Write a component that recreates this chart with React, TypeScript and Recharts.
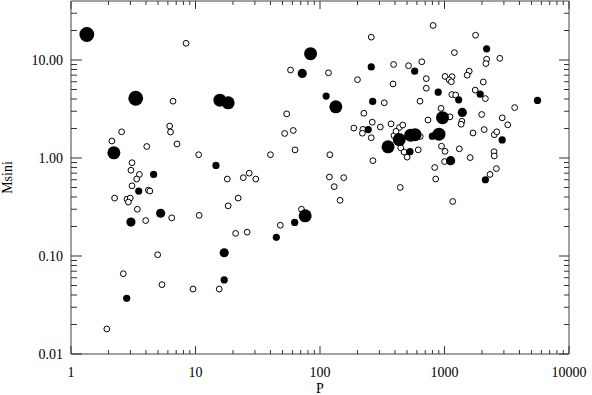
import React from 'react';
import { ScatterChart, Scatter, XAxis, YAxis, ReferenceArea } from 'recharts';

// Orbital period P (days) and Msini (Mjup)

// open circles
const openPeriod = [
  8.4, 6.6, 2.55, 6.2, 6.3, 2.13, 7.1, 4.06, 10.6, 3.09, 3.03, 3.54, 3.37, 3.09, 4.18, 4.3,
  2.24, 2.82, 2.99, 2.89, 3.41, 3.98, 6.44, 10.7, 4.97, 2.63, 5.38, 9.55, 1.94,
  258, 58, 117, 200, 328, 54, 225, 263, 61, 52, 187, 221, 219, 305, 258, 372,
  40, 63, 120, 266, 18, 24.2, 27, 30.5, 119, 155, 130, 22, 145, 18.3, 21, 26, 15.5, 48, 71,
  810, 1775, 1200, 2180, 2150, 2780, 390, 514, 657, 714, 1010, 1150, 1090, 1135, 1580, 1520,
  2050, 386, 714, 1765, 2130, 1145, 1230, 636, 3660, 937, 737, 1990, 2910, 1380, 1360, 3220,
  435, 462, 393, 408, 638, 1694, 2084, 2510, 2630, 445, 473, 501, 615, 946, 1010, 1000,
  1315, 1607, 2500, 2510, 2610, 2320, 834, 850, 441, 1164, 1107,
];
const openMass = [
  14.8, 3.8, 1.85, 2.12, 1.84, 1.49, 1.39, 1.31, 1.08, 0.895, 0.75, 0.68, 0.61, 0.52, 0.47, 0.46,
  0.39, 0.38, 0.39, 0.355, 0.3, 0.23, 0.245, 0.26, 0.103, 0.066, 0.051, 0.046, 0.018,
  17.1, 7.9, 7.4, 6.3, 3.66, 2.82, 2.86, 2.32, 1.91, 1.78, 2.02, 1.96, 1.79, 2.07, 1.61, 2.23,
  1.08, 1.21, 1.08, 0.94, 0.61, 0.63, 0.7, 0.61, 0.64, 0.63, 0.51, 0.39, 0.37, 0.325, 0.17, 0.175, 0.046, 0.206, 0.3,
  22.5, 17.9, 11.9, 10.2, 9.2, 10.4, 9.0, 8.75, 9.6, 6.46, 6.8, 6.76, 6.27, 6.0, 7.7, 7.0,
  5.97, 5.7, 5.15, 4.93, 4.04, 4.44, 4.39, 3.8, 3.27, 3.21, 2.44, 2.78, 2.57, 2.37, 2.21, 2.18,
  2.05, 2.17, 1.69, 1.87, 1.66, 1.8, 1.95, 1.73, 1.85, 1.27, 1.15, 1.02, 1.21, 1.32, 1.17, 0.92,
  1.24, 1.01, 1.16, 1.05, 0.78, 0.68, 0.8, 0.61, 0.5, 0.36, 2.63,
];

// small filled
const smallPeriod = [4.61, 3.5, 2.8, 258, 112, 265, 244, 14.6, 17, 44.6, 62.6, 2180, 576, 890, 1935, 1300, 5585, 2905, 528, 2130, 798];
const smallMass = [0.68, 0.46, 0.037, 8.5, 4.28, 3.78, 1.95, 0.84, 0.057, 0.155, 0.22, 13.0, 7.7, 4.7, 4.48, 3.92, 3.87, 1.53, 1.16, 0.6, 1.67];

// medium filled
const mediumPeriod = [5.25, 3.03, 72, 17, 1390, 1120];
const mediumMass = [0.273, 0.222, 7.3, 0.108, 2.92, 0.94];

// large filled
const largePeriod = [2.21, 84, 15.7, 18.3, 134, 76, 352, 433, 535, 580, 903, 964];
const largeMass = [1.13, 11.6, 3.89, 3.66, 3.33, 0.257, 1.3, 1.54, 1.71, 1.73, 1.75, 2.58];

// biggest filled
const hugePeriod = [1.34, 3.31];
const hugeMass = [18.2, 4.07];

const X_MAJOR = [1, 10, 100, 1000, 10000];
const Y_MAJOR = [0.01, 0.1, 1, 10];
const X_TICKS = [...X_MAJOR.slice(0, -1).flatMap((d) => [1, 2, 3, 4, 5, 6, 7, 8, 9].map((k) => k * d)), 10000];
const Y_TICKS = [...Y_MAJOR.slice(0, -1).flatMap((d) => [1, 2, 3, 4, 5, 6, 7, 8, 9].map((k) => k * d)), 10, 20, 30];
const X_DOMAIN = [1, 10000];
const Y_DOMAIN = [0.01, 40];

const W = 592;
const H = 395;
const MARGIN = { top: 1, right: 23, bottom: 0, left: 0 };
const X_AXIS_H = 41;
const Y_AXIS_W = 71;
const PLOT_W = W - MARGIN.left - MARGIN.right - Y_AXIS_W;
const PLOT_H = H - MARGIN.top - MARGIN.bottom - X_AXIS_H;

const FONT = '"Liberation Serif", "Times New Roman", serif';
const TICK_COLOR = '#333';

const zip = (ps: number[], ms: number[]) => ps.map((p, i) => ({ p, m: ms[i] }));

const dot = (r: number, filled: boolean) => (props: any) => (
  <circle
    cx={props.cx}
    cy={props.cy}
    r={r}
    fill={filled ? '#000' : '#fff'}
    stroke="#000"
    strokeWidth={filled ? 0 : 1}
  />
);

const isMajor = (list: number[], v: number) => list.some((m) => Math.abs(m - v) < m * 1e-6);

// bottom axis tick, also mirrors the tick on the top edge of the frame
const XTick = (props: any) => {
  const { x, y, payload } = props;
  const major = isMajor(X_MAJOR, payload.value);
  const len = major ? 8 : 4;
  const top = y - PLOT_H;
  return (
    <g>
      <line x1={x} x2={x} y1={y} y2={y - len} stroke={TICK_COLOR} strokeWidth={1} />
      <line x1={x} x2={x} y1={top} y2={top + len} stroke={TICK_COLOR} strokeWidth={1} />
      {major && (
        <text x={x} y={y + 23} textAnchor="middle" fontFamily={FONT} fontSize={14} fill="#000">
          {payload.value}
        </text>
      )}
    </g>
  );
};

// left axis tick, also mirrors the tick on the right edge of the frame
const YTick = (props: any) => {
  const { x, y, payload } = props;
  const major = isMajor(Y_MAJOR, payload.value);
  const right = x + PLOT_W;
  return (
    <g>
      <line x1={x} x2={x + (major ? 11 : 6)} y1={y} y2={y} stroke={TICK_COLOR} strokeWidth={1} />
      <line x1={right} x2={right - (major ? 10 : 5)} y1={y} y2={y} stroke={TICK_COLOR} strokeWidth={1} />
      {major && (
        <text x={x - 8} y={y + 5} textAnchor="end" fontFamily={FONT} fontSize={14} fill="#000">
          {payload.value.toFixed(2)}
        </text>
      )}
    </g>
  );
};

export default function App() {
  return (
    <div style={{ position: 'absolute', left: 0, top: 0, width: W, height: H, background: '#fff' }}>
      <ScatterChart width={W} height={H} margin={MARGIN}>
        <ReferenceArea
          x1={X_DOMAIN[0]}
          x2={X_DOMAIN[1]}
          y1={Y_DOMAIN[0]}
          y2={Y_DOMAIN[1]}
          fill="none"
          stroke="#444"
          strokeWidth={1}
        />
        <XAxis
          type="number"
          dataKey="p"
          scale="log"
          domain={X_DOMAIN}
          allowDataOverflow
          ticks={X_TICKS}
          interval={0}
          height={X_AXIS_H}
          tickSize={0}
          tickMargin={0}
          tickLine={false}
          axisLine={{ stroke: '#a0a0a0', strokeWidth: 2 }}
          tick={(p: any) => <XTick {...p} />}
          label={{
            content: (lp: any) => {
              const vb = lp.viewBox;
              return (
                <text x={vb.x + vb.width / 2} y={vb.y + 39} textAnchor="middle" fontFamily={FONT} fontSize={14} fill="#000">
                  P
                </text>
              );
            },
          }}
        />
        <YAxis
          type="number"
          dataKey="m"
          scale="log"
          domain={Y_DOMAIN}
          allowDataOverflow
          ticks={Y_TICKS}
          interval={0}
          width={Y_AXIS_W}
          tickSize={0}
          tickMargin={0}
          tickLine={false}
          axisLine={{ stroke: '#a0a0a0', strokeWidth: 2 }}
          tick={(p: any) => <YTick {...p} />}
          label={{
            content: (lp: any) => {
              const vb = lp.viewBox;
              const cx = vb.x + 12;
              const cy = vb.y + vb.height / 2;
              return (
                <text
                  x={cx}
                  y={cy}
                  transform={`rotate(-90 ${cx} ${cy})`}
                  textAnchor="middle"
                  fontFamily={FONT}
                  fontSize={14}
                  fill="#000"
                >
                  Msini
                </text>
              );
            },
          }}
        />
        <Scatter data={zip(openPeriod, openMass)} shape={dot(2.9, false)} isAnimationActive={false} />
        <Scatter data={zip(smallPeriod, smallMass)} shape={dot(3.6, true)} isAnimationActive={false} />
        <Scatter data={zip(mediumPeriod, mediumMass)} shape={dot(4.6, true)} isAnimationActive={false} />
        <Scatter data={zip(largePeriod, largeMass)} shape={dot(6.5, true)} isAnimationActive={false} />
        <Scatter data={zip(hugePeriod, hugeMass)} shape={dot(7.4, true)} isAnimationActive={false} />
      </ScatterChart>
    </div>
  );
}
